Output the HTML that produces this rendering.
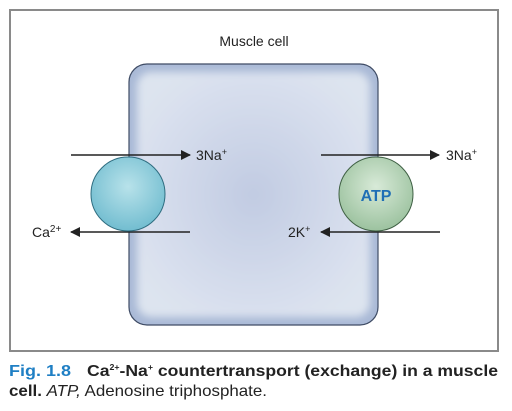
<!DOCTYPE html>
<html><head><meta charset="utf-8"><style>
body{margin:0;background:#fff;width:512px;height:411px;overflow:hidden;font-family:"Liberation Sans",sans-serif}
</style></head><body>
<svg width="512" height="411" viewBox="0 0 512 411" style="position:absolute;left:0;top:0">
<defs>
<radialGradient id="cellg" cx="50%" cy="50%" r="60%">
<stop offset="0" stop-color="#c1cbe2"/><stop offset="0.8" stop-color="#d9e0ee"/><stop offset="1" stop-color="#dde4ef"/></radialGradient>
<radialGradient id="bg1" cx="50%" cy="40%" r="60%"><stop offset="0" stop-color="#b8e2ea"/><stop offset="1" stop-color="#72bdd0"/></radialGradient>
<radialGradient id="bg2" cx="50%" cy="40%" r="60%"><stop offset="0" stop-color="#d8ead8"/><stop offset="1" stop-color="#9cc29f"/></radialGradient>
<filter id="blur"><feGaussianBlur stdDeviation="4"/></filter>
<marker id="ah" markerWidth="10" markerHeight="10" refX="9" refY="5" orient="auto" markerUnits="userSpaceOnUse"><path d="M0,0 L10,5 L0,10z" fill="#222"/></marker>
</defs>
<rect x="10" y="10" width="488" height="341" fill="#fff" stroke="#8a8a8a" stroke-width="2"/>
<text x="254" y="46" text-anchor="middle" font-size="14" fill="#222">Muscle cell</text>
<rect x="129" y="64" width="249" height="261" rx="18" fill="#a9b9d6" stroke="#3d4a63" stroke-width="1.2"/>
<rect x="137" y="72" width="233" height="245" rx="14" fill="url(#cellg)" filter="url(#blur)"/>
<line x1="71" y1="155" x2="190" y2="155" stroke="#222" stroke-width="1.6" marker-end="url(#ah)"/>
<line x1="190" y1="232" x2="71" y2="232" stroke="#222" stroke-width="1.6" marker-end="url(#ah)"/>
<line x1="321" y1="155" x2="439" y2="155" stroke="#222" stroke-width="1.6" marker-end="url(#ah)"/>
<line x1="440" y1="232" x2="321" y2="232" stroke="#222" stroke-width="1.6" marker-end="url(#ah)"/>
<circle cx="128" cy="194" r="37" fill="url(#bg1)" stroke="#2f6d80" stroke-width="1"/>
<circle cx="376" cy="194" r="37" fill="url(#bg2)" stroke="#3f6044" stroke-width="1"/>
<text x="376" y="201" text-anchor="middle" font-size="16" font-weight="bold" fill="#1f6fb5">ATP</text>
<text x="196" y="160" font-size="14" fill="#222">3Na<tspan font-size="9" dy="-5">+</tspan></text>
<text x="446" y="160" font-size="14" fill="#222">3Na<tspan font-size="9" dy="-5">+</tspan></text>
<text x="32" y="237" font-size="14" fill="#222">Ca<tspan font-size="10" dy="-5">2+</tspan></text>
<text x="288" y="237" font-size="14" fill="#222">2K<tspan font-size="9" dy="-5">+</tspan></text>
<text x="9" y="376" font-size="16" font-weight="bold" fill="#1f7fc4" textLength="62" lengthAdjust="spacingAndGlyphs">Fig. 1.8</text>
<text x="87" y="376" font-size="16" font-weight="bold" fill="#222" textLength="411" lengthAdjust="spacingAndGlyphs">Ca<tspan font-size="8" dy="-6">2+</tspan><tspan dy="6">-Na</tspan><tspan font-size="8" dy="-6">+</tspan><tspan dy="6"> countertransport (exchange) in a muscle</tspan></text>
<text x="9" y="396" font-size="16" fill="#222" textLength="258" lengthAdjust="spacingAndGlyphs"><tspan font-weight="bold">cell.</tspan> <tspan font-style="italic">ATP,</tspan> Adenosine triphosphate.</text>
</svg>
</body></html>
